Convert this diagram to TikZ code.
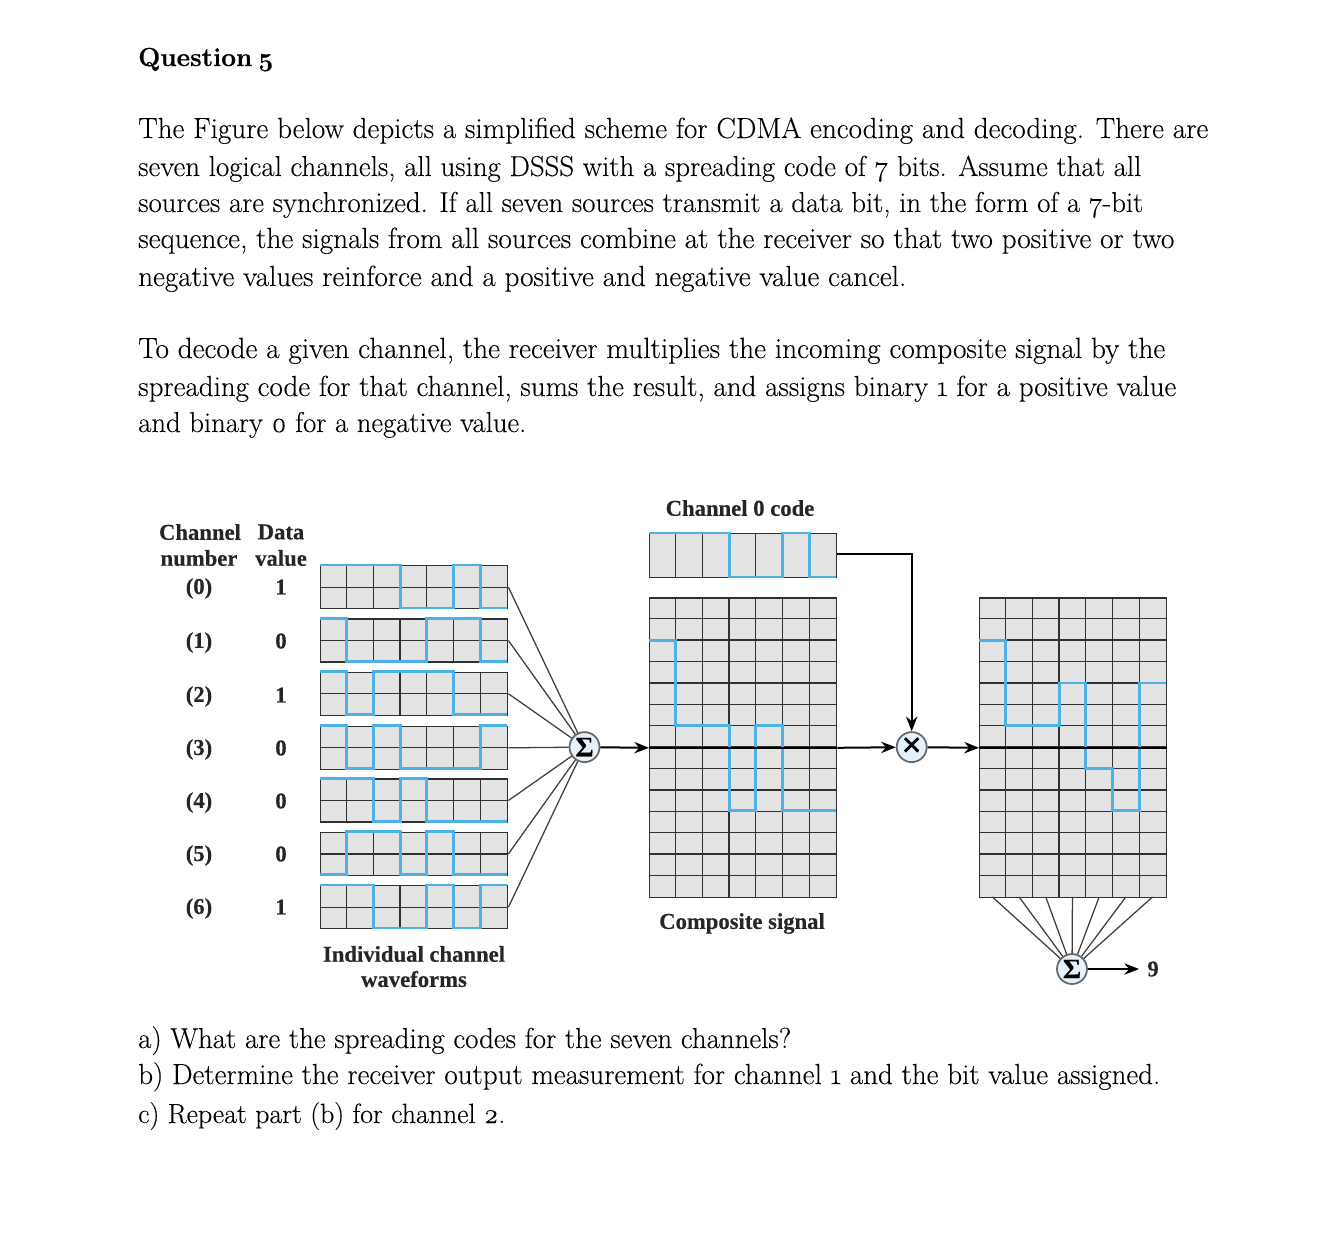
\documentclass[tikz,border=0pt]{standalone}
\usepackage{fontspec}
\setmainfont[BoldFeatures={FakeBold=0.25}]{Liberation Serif}
\newfontfamily\bodyf[Numbers=OldStyle,FakeBold=0.12]{Latin Modern Roman}
\newfontfamily\titlef[Numbers=OldStyle,BoldFeatures={FakeBold=0.5}]{Latin Modern Roman}
\usetikzlibrary{arrows.meta}
\definecolor{gridfill}{HTML}{E3E3E3}
\definecolor{gridline}{HTML}{303030}
\definecolor{waveblue}{HTML}{4DB1E8}
\definecolor{sumfill}{HTML}{E4F2FB}
\tikzset{
  x=0.75pt,y=-0.75pt,
  body/.style={anchor=base west,inner sep=0pt,font=\bodyf\fontsize{21.72}{24}\selectfont},
  title/.style={anchor=base west,inner sep=0pt,font=\titlef\bfseries\fontsize{19.6}{24}\selectfont},
  lab/.style={inner sep=0pt,font=\bfseries\fontsize{17}{19}\selectfont,text=black!85},
  gridbox/.style={draw=gridline,fill=gridfill,line width=1.05pt,anchor=north west,inner sep=0pt,minimum width=140.25pt},
  cellline/.style={draw=gridline,line width=0.95pt},
  wavepath/.style={draw=waveblue,line width=2.1pt,line join=miter},
  conn/.style={draw=black!75,line width=0.95pt},
  busline/.style={draw=black,line width=1.5pt},
  bus/.style={busline,-{Stealth[length=11pt,width=8.5pt]}},
  opnode/.style={circle,draw=black!60,fill=sumfill,line width=1.3pt,minimum size=22.5pt,inner sep=0pt,font=\bfseries\fontsize{21}{21}\selectfont},
}
% set one line of running text to a given width in reference pixels
\newcommand{\fit}[2]{\resizebox{0.75\dimexpr #1pt\relax}{!}{#2}}
\newcommand{\wavep}[8]{\draw[wavepath] (#1,#2) -- ({#1+26.7},#2) -- ({#1+26.7},#3) -- ({#1+53.4},#3) -- ({#1+53.4},#4) -- ({#1+80.1},#4) -- ({#1+80.1},#5) -- ({#1+106.8},#5) -- ({#1+106.8},#6) -- ({#1+133.5},#6) -- ({#1+133.5},#7) -- ({#1+160.2},#7) -- ({#1+160.2},#8) -- ({#1+187},#8);}
\newcommand{\chanrow}[9]{%
  \node[gridbox,minimum height=32.25pt] (row#1) at (320,#2) {};
  \foreach \k in {1,...,6} \draw[cellline] ({320+26.7*\k},#2) -- ({320+26.7*\k},{#2+43});
  \draw[cellline] (row#1.west) -- (row#1.east);
  \wavep{320}{{#2+43*(1-#3)}}{{#2+43*(1-#4)}}{{#2+43*(1-#5)}}{{#2+43*(1-#6)}}{{#2+43*(1-#7)}}{{#2+43*(1-#8)}}{{#2+43*(1-#9)}}
}
\newcommand{\tallgrid}[2]{%
  \node[gridbox,minimum height=224.7pt] (#2) at (#1,597.3) {};
  \foreach \k in {1,...,6} \draw[cellline] ({#1+26.7*\k},597.3) -- ({#1+26.7*\k},896.9);
  \foreach \k in {1,...,13} \draw[cellline] (#1,{597.3+21.4*\k}) -- ({#1+187},{597.3+21.4*\k});
}
\begin{document}
\begin{tikzpicture}
\useasboundingbox (0,0) rectangle (1334,1250);
\fill[white] (0,0) rectangle (1334,1250);
% text
\node[title] (q) at (138,66) {Question\hspace{4pt}5};
\node[body] (t1) at (138,138) {\fit{1070}{The Figure below depicts a simplified scheme for CDMA encoding and decoding. There are}};
\node[body] (t2) at (138,176) {\fit{1003}{seven logical channels, all using DSSS with a spreading code of 7 bits. Assume that all}};
\node[body] (t3) at (138,212) {\fit{1005}{sources are synchronized. If all seven sources transmit a data bit, in the form of a 7-bit}};
\node[body] (t4) at (138,248) {\fit{1036}{sequence, the signals from all sources combine at the receiver so that two positive or two}};
\node[body] (t5) at (138,286) {\fit{768}{negative values reinforce and a positive and negative value cancel.}};
\node[body] (t6) at (138,358) {\fit{1027}{To decode a given channel, the receiver multiplies the incoming composite signal by the}};
\node[body] (t7) at (138,396) {\fit{1038}{spreading code for that channel, sums the result, and assigns binary 1 for a positive value}};
\node[body] (t8) at (138,432) {\fit{388}{and binary 0 for a negative value.}};
\node[body] (t9) at (138,1048) {\fit{653}{a) What are the spreading codes for the seven channels?}};
\node[body] (t10) at (138,1084) {\fit{1022}{b) Determine the receiver output measurement for channel 1 and the bit value assigned.}};
\node[body] (t11) at (138,1123) {\fit{367}{c) Repeat part (b) for channel 2.}};
% labels
\node[lab] (h1) at (200,532) {Channel};
\node[lab] (h2) at (281,532) {Data};
\node[lab] (h3) at (199,558) {number};
\node[lab] (h4) at (281,558) {value};
\foreach \n/\y/\v in {0/587/1,1/641/0,2/695/1,3/748/0,4/801/0,5/854/0,6/907/1}{
  \node[lab] (cn\n) at (199,{\y+1.5}) {(\n)};
  \node[lab] (dv\n) at (281,\y) {\v};
}
\node[lab] (l1) at (414,954) {Individual channel};
\node[lab] (l2) at (414,979) {waveforms};
\node[lab] (l3) at (740,508) {Channel 0 code};
\node[lab] (l4) at (742,923.5) {Composite signal};
% operators
\node[opnode] (sigA) at (584.5,747.1) {Σ};
\node[opnode,font=\bfseries\fontsize{27}{27}\selectfont] (mult) at (911.7,747.1) {×};
\node[opnode] (sigB) at (1072,969) {Σ};
% channel rows
\chanrow{0}{565}{1}{1}{1}{0}{0}{1}{0}
\chanrow{1}{618.3}{1}{0}{0}{0}{1}{1}{0}
\chanrow{2}{671.5}{1}{0}{1}{1}{1}{0}{0}
\chanrow{3}{725.6}{1}{0}{1}{0}{0}{0}{1}
\chanrow{4}{778.3}{1}{1}{0}{1}{0}{0}{0}
\chanrow{5}{831.7}{0}{1}{1}{0}{1}{0}{0}
\chanrow{6}{885}{1}{1}{0}{0}{1}{0}{1}
\foreach \n in {0,...,6} \draw[conn] (row\n.east) -- (sigA);
% code box
\node[gridbox,minimum height=33pt] (code) at (649,533) {};
\foreach \k in {1,...,6} \draw[cellline] ({649+26.7*\k},533) -- ({649+26.7*\k},577);
\wavep{649}{533}{533}{533}{577}{577}{533}{577}
% tall grids
\tallgrid{649}{comp}
\tallgrid{979}{prod}
\wavep{649}{640.1}{725.7}{725.7}{810.7}{725.7}{810.7}{810.7}
\wavep{979}{640.1}{725.7}{725.7}{682.9}{768.1}{810.7}{682.9}
% connectors
\draw[bus] ([yshift=1.1pt]code.east) -| (mult);
\draw[bus] (sigA) -- (comp.west);
\draw[busline,line width=1.05pt] (comp.west) -- (comp.east);
\draw[bus] (comp.east) -- (mult);
\draw[bus] (mult) -- (prod.west);
\draw[busline,line width=1.05pt] (prod.west) -- (prod.east);
\foreach \n in {0,...,6} {
  \coordinate (tap\n) at ({979+26.7*(\n+0.5)},896.9);
  \draw[conn] (tap\n) -- (sigB);
}
\node[lab] (nine) at (1153,969) {9};
\draw[bus,shorten >=6pt] (sigB) -- (nine.west);
\end{tikzpicture}
\end{document}
